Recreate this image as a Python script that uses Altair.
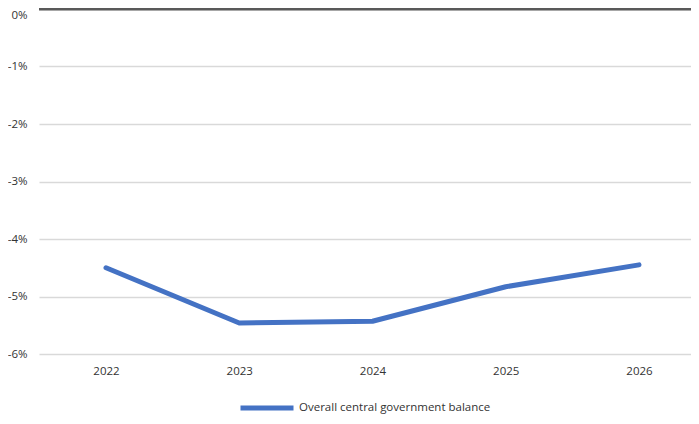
import altair as alt
import pandas as pd

years = [2022, 2023, 2024, 2025, 2026]
balance = [-4.50, -5.46, -5.43, -4.83, -4.45]
series_name = "Overall central government balance"
y_ticks = [0, -1, -2, -3, -4, -5, -6]

df = pd.DataFrame({"year": years, "value": balance, "series": [series_name] * len(years)})
zero_df = pd.DataFrame({"y": [0]})

FONT = "Open Sans"
W, H = 652, 345
px_per_year = 133.25
xmin = 2022 - 67 / px_per_year
xmax = xmin + W / px_per_year

x_scale = alt.Scale(domain=[xmin, xmax], nice=False, zero=False)
y_scale = alt.Scale(domain=[-6, 0], nice=False)

line = alt.Chart(df).mark_line(strokeWidth=5, strokeCap="round", strokeJoin="round").encode(
    x=alt.X("year:Q", scale=x_scale,
            axis=alt.Axis(values=years, format="d", title=None, grid=False, domain=False,
                          ticks=False, labelPadding=11, labelFontSize=11.5,
                          labelColor="#333333", labelFont=FONT)),
    y=alt.Y("value:Q", scale=y_scale,
            axis=alt.Axis(values=y_ticks, labelExpr="datum.value + '%'", title=None,
                          domain=False, ticks=False, grid=True, gridColor="#d9d9d9",
                          gridWidth=1.5, labelPadding=12, labelFontSize=11.5,
                          labelColor="#333333", labelFont=FONT,
                          labelBaseline=alt.condition("datum.value == 0",
                                                      alt.value("top"), alt.value("middle")))),
    color=alt.Color("series:N", scale=alt.Scale(range=["#4472C4"]),
                    legend=alt.Legend(title=None, orient="none", legendX=199, legendY=370,
                                      symbolType="stroke", symbolSize=2809,
                                      symbolStrokeWidth=5, labelFontSize=11.5,
                                      labelFont=FONT, labelColor="#333333",
                                      labelOffset=3, labelLimit=400)),
)

zero = alt.Chart(zero_df).mark_rule(color="#595959", strokeWidth=3).encode(
    y=alt.Y("y:Q", scale=y_scale)
)

chart = alt.layer(zero, line).properties(
    width=W, height=H,
    autosize=alt.AutoSizeParams(type="none"),
    padding={"left": 31, "top": 1, "right": 0, "bottom": 62},
).configure_view(stroke=None)

chart.save("out.html", embed_options={"renderer": "svg", "actions": False})
